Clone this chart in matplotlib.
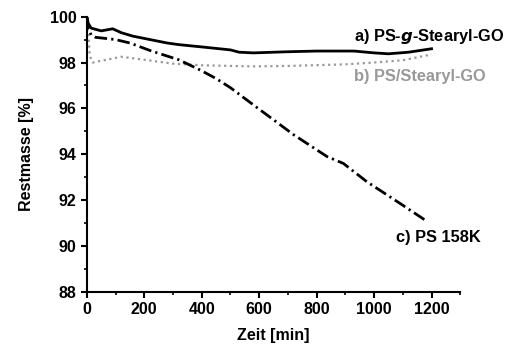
import numpy as np
import matplotlib
matplotlib.use("Agg")
import matplotlib.pyplot as plt
from matplotlib.ticker import MultipleLocator

plt.rcParams['font.family'] = ['Liberation Sans', 'DejaVu Sans']
plt.rcParams['font.weight'] = 'bold'

# a) PS-g-Stearyl-GO
t_a = [0, 5, 15, 50, 90, 120, 160, 220, 280, 320, 400, 500, 530, 580, 700, 800, 930, 1000, 1050, 1120, 1200]
m_a = [100, 99.7, 99.5, 99.38, 99.47, 99.3, 99.15, 99.0, 98.85, 98.78, 98.68, 98.55, 98.45, 98.42, 98.47, 98.5, 98.5, 98.42, 98.38, 98.45, 98.6]

# b) PS/Stearyl-GO
t_b = [0, 5, 10, 20, 60, 120, 200, 300, 400, 580, 700, 900, 1000, 1100, 1200]
m_b = [100, 99.3, 98.3, 98.0, 98.1, 98.25, 98.12, 97.95, 97.88, 97.83, 97.85, 97.92, 98.0, 98.1, 98.35]

# c) PS 158K
t_c = [0, 5, 15, 30, 100, 150, 225, 320, 395, 450, 500, 580, 650, 720, 836, 893, 975, 1091, 1175]
m_c = [100, 99.5, 99.2, 99.1, 99.0, 98.85, 98.5, 98.12, 97.67, 97.3, 96.9, 96.15, 95.5, 94.85, 93.9, 93.6, 92.8, 91.85, 91.15]

labels = ["a) PS-$\\mathbfit{g}$-Stearyl-GO", "b) PS/Stearyl-GO", "c) PS 158K"]

fig = plt.figure(figsize=(5.08, 3.47), dpi=100)
ax = fig.add_axes([0.171, 0.159, 0.735, 0.793])

ax.plot(t_b, m_b, color='#999999', lw=1.6, linestyle=(0, (1, 1.6)))
ax.plot(t_c, m_c, color='black', lw=2.0, linestyle=(0, (4.5, 1.5, 0.8, 1.5)))
ax.plot(t_a, m_a, color='black', lw=2.0)

ax.text(930, 99.13, labels[0], fontsize=11.8, fontweight='bold', va='center', ha='left')
ax.text(930, 97.38, labels[1], fontsize=11.8, fontweight='bold', va='center', ha='left', color='#999999')
ax.text(1076, 90.37, labels[2], fontsize=11.8, fontweight='bold', va='center', ha='left')

ax.set_xlim(0, 1300)
ax.set_ylim(88, 100)
ax.xaxis.set_major_locator(MultipleLocator(200))
ax.xaxis.set_minor_locator(MultipleLocator(100))
ax.yaxis.set_major_locator(MultipleLocator(2))
ax.yaxis.set_minor_locator(MultipleLocator(1))

for s in ['top', 'right']:
  ax.spines[s].set_visible(False)
for s in ['left', 'bottom']:
  ax.spines[s].set_linewidth(1.5)

ax.tick_params(which='major', direction='out', length=4, width=1.5, labelsize=11.5)
ax.tick_params(which='minor', direction='out', length=2.5, width=1.2)
for lab in ax.get_xticklabels() + ax.get_yticklabels():
  lab.set_fontweight('bold')

ax.set_xlabel("Zeit [min]", fontsize=11.5, fontweight='bold', labelpad=8)
ax.set_ylabel("Restmasse [%]", fontsize=11.5, fontweight='bold', labelpad=11)

fig.savefig("out.png", dpi=100)
